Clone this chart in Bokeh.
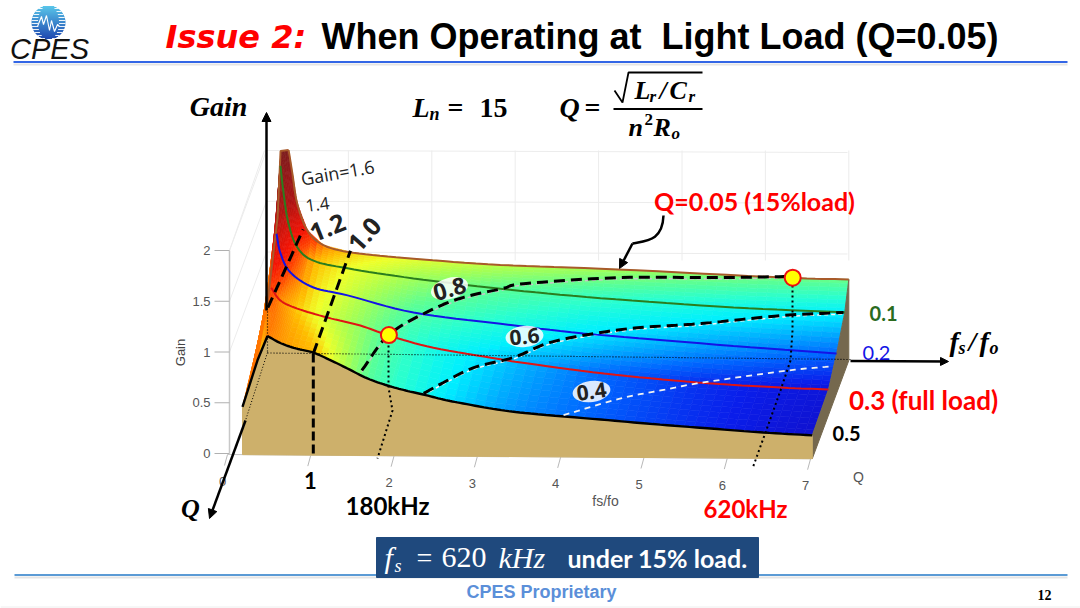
import numpy as np
from bokeh.plotting import figure
from bokeh.models import Arrow, NormalHead
from bokeh.core.properties import value
from bokeh.embed import file_html
from bokeh.resources import INLINE

# ---- data -----------------------------------------------------------------
Q_levels = [0.05, 0.1, 0.2, 0.3, 0.5]
f_q05 = [.18,.30,.335,.43,.475,.53,.65,.84,1.19,1.90,2.92,4.30,6.25,7.02]
g_q05 = [.48,1.31,1.95,1.96,1.73,1.45,1.19,1.05,.98,.93,.88,.85,.79,.78]
f_q10 = [.18,.30,.367,.40,.46,.567,.756,1.157,1.935,2.96,4.14,5.71,7.02]
g_q10 = [.47,1.30,1.92,1.68,1.37,1.135,1.01,.94,.85,.76,.68,.605,.57]
f_q20 = [.18,.30,.386,.434,.552,.825,1.228,2.01,3.04,4.02,5.41,7.02]
g_q20 = [.47,1.0,1.49,1.30,1.116,.973,.90,.74,.64,.555,.47,.385]
f_q30 = [.18,.30,.39,.5,.70,1.06,1.45,1.79,2.32,3.08,3.36,4.35,5.46,6.45,7.02]
g_q30 = [.47,.9,1.19,1.067,.99,.905,.83,.736,.62,.52,.485,.385,.306,.264,.25]
f_q50 = [.18,.36,.48,.64,.82,1.03,1.24,1.44,1.68,1.92,2.14,2.35,2.59,2.83,3.24,3.64,4.48,5.11,5.80,6.43,7.02]
g_q50 = [.47,.93,1.17,1.10,1.05,1.01,.935,.856,.759,.691,.643,.605,.557,.519,.462,.425,.371,.33,.29,.255,.23]

c10_f = [1.03, 1.157];  c10_q = [.5, .05]
c12_f = [.41, .48, .6]; c12_q = [.39, .27, .05]
c08_f = [1.6,1.81,2.22,2.57,3.0,3.23,4.31,5.48,6.26,6.36]
c08_q = [.483,.325,.217,.158,.1175,.095,.0635,.058,.05,.05]
c06_f = [2.35,2.55,2.86,3.30,3.68,4.24,4.69,5.39,6.33,7.02]
c06_q = [.493,.444,.377,.33,.262,.216,.192,.171,.131,.115]
c04_f = [4.03,4.64,5.2,5.57,6.52,7.01]
c04_q = [.495,.419,.372,.343,.286,.266]

op_f = [1.79, 6.36]; op_q = [.3, .05]; op_g = [.74, .79]

gain_ticks = [0, .5, 1, 1.5, 2]
gain_labels = ["0", "0.5", "1", "1.5", "2"]
fs_ticks = [0, 1, 2, 3, 4, 5, 6, 7]

cmap_g = [.2,.28,.38,.47,.56,.66,.76,.86,.94,1.0,1.1,1.2,1.5,2.0]
cmap_r = [20,10,0,0,0,40,90,170,240,255,255,245,170,120]
cmap_gr = [10,30,100,170,240,255,255,255,255,190,70,20,20,30]
cmap_b = [190,235,255,255,255,210,150,80,40,0,0,5,20,30]

# ---- view projection of the 3-D box ------------------------------------------
def project(f, q, g):
    f, q, g = np.asarray(f, float), np.asarray(q, float), np.asarray(g, float)
    t = (.5 - q) / .45
    x = (227 + 83.3 * f) * (1 - t) + (251.6 + 85 * f) * t
    y = (454 + .6 * f) * (1 - t) + (353 + f) * t - g * (101.5 * (1 - t) + 104 * t)
    return x, y

def smooth(x, y, n=8):
    x, y = np.asarray(x, float), np.asarray(y, float)
    if len(x) < 3:
        return x, y
    px = np.concatenate([[2 * x[0] - x[1]], x, [2 * x[-1] - x[-2]]])
    py = np.concatenate([[2 * y[0] - y[1]], y, [2 * y[-1] - y[-2]]])
    ox, oy = [], []
    for i in range(1, len(px) - 2):
        for s in np.linspace(0, 1, n, endpoint=False):
            b = [(-s**3 + 2*s*s - s) / 2, (3*s**3 - 5*s*s + 2) / 2, (-3*s**3 + 4*s*s + s) / 2, (s**3 - s*s) / 2]
            ox.append(sum(b[k] * px[i - 1 + k] for k in range(4)))
            oy.append(sum(b[k] * py[i - 1 + k] for k in range(4)))
    ox.append(x[-1]); oy.append(y[-1])
    return np.array(ox), np.array(oy)

def colour(g, f, q):
    t = (.5 - q) / .45
    e = g if g < 1 else 1 + (g - 1) * (.3 + .7 * t)
    if f < .36:
        e = max(e, 1.06)
    return "#%02x%02x%02x" % (int(np.interp(e, cmap_g, cmap_r)),
                              int(np.interp(e, cmap_g, cmap_gr)),
                              int(np.interp(e, cmap_g, cmap_b)))

p = figure(width=1080, height=608, x_range=(0, 1080), y_range=(608, 0),
           output_backend="svg", toolbar_location=None, min_border=0)
p.xaxis.visible = False; p.yaxis.visible = False
p.xgrid.visible = False; p.ygrid.visible = False
p.outline_line_color = None

def txt(x, y, s, size, color="black", font="Liberation Sans", style="normal",
        angle=0, align="center", base="middle"):
    p.text([x], [y], text=[s], text_font=value(font), text_font_size=f"{size}px",
           text_color=color, text_font_style=style, angle=np.radians(angle),
           text_align=align, text_baseline=base)

def arrow(x0, y0, x1, y1, w=2.5, size=9):
    p.add_layout(Arrow(end=NormalHead(size=size, fill_color="black", line_color="black"),
                       x_start=x0, y_start=y0, x_end=x1, y_end=y1, line_width=w))

# ---- page furniture ------------------------------------------------------------
p.line([13, 1067], [64, 64], line_color="#cccccc", line_width=2, line_alpha=.5)
p.line([13, 1067], [61.5, 61.5], line_color="#3366e6", line_width=2.2)
p.line([14, 1067], [577, 577], line_color="#cccccc", line_width=2, line_alpha=.5)
p.line([14, 1067], [574.5, 574.5], line_color="#5b9bd5", line_width=2)
p.line([0, 1080], [606.5, 606.5], line_color="#eeeeee", line_width=1)

# logo
cx, cy, r = 48, 22, 17
for dy in np.arange(-r, r + .01, 1.0):
    hw = np.sqrt(max(r * r - dy * dy, 0))
    u = (dy + r) / (2 * r)
    col = "#%02x%02x%02x" % (int(90 - 60 * u), int(200 - 130 * u), int(235 - 60 * u))
    p.line([cx - hw, cx + hw], [cy + dy, cy + dy], line_color=col, line_width=1.2)
    if int(dy + r) % 3 == 0:
        inner = hw * .62
        p.line([cx - hw, cx - inner], [cy + dy, cy + dy], line_color="white", line_width=.9)
        p.line([cx + inner, cx + hw], [cy + dy, cy + dy], line_color="white", line_width=.9)
p.line([37, 41, 43, 46, 49, 51, 54, 57, 59], [26, 16, 24, 15, 30, 20, 31, 24, 26],
       line_color="white", line_width=1.1)
txt(49, 48, "CPES", 29, "#111111", style="italic")

txt(165, 36, "Issue 2:", 32, "#ff0000", "DejaVu Sans", "bold italic", align="left")
txt(321, 36, "When Operating at\u00a0 Light Load (Q=0.05)", 36, "black", "Liberation Sans", "bold", align="left")

# ---- 3-D box: axes and grid ------------------------------------------------
grid = "#ececec"
for gv in gain_ticks[2:]:
    yb = 353 - 101.5 * gv
    p.line([266, 847], [yb, yb + 2], line_color=grid, line_width=1)
    p.line([229, 266], [453 - 101.5 * gv, yb], line_color=grid, line_width=1)
for fv in fs_ticks[1:]:
    xb = 264.5 + 83.4 * fv
    p.line([xb, xb], [150, 260], line_color=grid, line_width=1)
p.line([229, 229], [250, 453], line_color="#c8c8c8", line_width=1.5)
p.line([229, 264], [250, 150], line_color=grid, line_width=1)
for gv, lab in zip(gain_ticks, gain_labels):
    yy = 453 - 101.5 * gv
    p.line([214, 229], [yy, yy], line_color="#b0b0b0", line_width=1)
    txt(210, yy, lab, 13, "#555555", align="right")
txt(180, 352, "Gain", 13, "#444444", angle=90)
for fv in fs_ticks:
    tx, ty = project(fv, .5, 0)
    p.line([tx, tx - 3], [ty, ty + 11], line_color="#b8b8b8", line_width=1)
    if fv != 1:
        txt(float(tx) - 5, float(ty) + 27, str(fv), 13, "#555555")
p.line(*project([0, 7], [.5, .5], [0, 0]), line_color="#c8c8c8", line_width=1.2)
txt(605, 500, "fs/fo", 14, "#555555")
txt(858, 476, "Q", 14, "#555555")

# ---- surface -----------------------------------------------------------------
f_fine = np.concatenate([np.arange(.18, .7, .02), np.arange(.7, 2, .07), np.arange(2, 7.02, .12), [7.02]])
rows = [np.interp(f_fine, a, b) for a, b in [(f_q05, g_q05), (f_q10, g_q10), (f_q20, g_q20),
                                             (f_q30, g_q30), (f_q50, g_q50)]]
q_fine, g_fine = [], []
SUB = 8
for i in range(4):
    for s in range(SUB):
        w = s / SUB
        q_fine.append(Q_levels[i] * (1 - w) + Q_levels[i + 1] * w)
        g_fine.append(rows[i] * (1 - w) + rows[i + 1] * w)
q_fine.append(Q_levels[-1]); g_fine.append(rows[-1])
xs, ys, cs = [], [], []
for i in range(len(q_fine) - 1):
    x0, y0 = project(f_fine, q_fine[i], g_fine[i])
    x1, y1 = project(f_fine, q_fine[i + 1], g_fine[i + 1])
    for j in range(len(f_fine) - 1):
        xs.append([x0[j], x0[j + 1], x1[j + 1], x1[j]])
        ys.append([y0[j], y0[j + 1], y1[j + 1], y1[j]])
        cs.append(colour((g_fine[i][j] + g_fine[i][j + 1] + g_fine[i + 1][j] + g_fine[i + 1][j + 1]) / 4,
                         f_fine[j], q_fine[i]))
p.patches(xs, ys, fill_color=cs, line_color=cs, line_width=.6)

# right wall and front wall
g_edge = [g[-1] for g in g_fine]
wx, wy = project([7.02] * len(q_fine), q_fine, g_edge)
bx, by = project([7.02, 7.02], [.5, .05], [0, 0])
p.patch(list(wx) + [bx[0], bx[1]], list(wy) + [by[0], by[1]], fill_color="#75684e", line_color="#75684e")
cx5, cy5 = project(f_q50, [.5] * len(f_q50), g_q50)
sx5, sy5 = smooth(cx5[2:], cy5[2:])
fx, fy = project([7.02, .18], [.5, .5], [0, 0])
p.patch(list(cx5[:2]) + list(sx5) + list(fx), list(cy5[:2]) + list(sy5) + list(fy),
        fill_color="#cdb06b", line_color="#cdb06b")

# gain-contour dashes
for cf, cq, lev, under in [(c08_f, c08_q, .8, "#c8c8c8"), (c06_f, c06_q, .6, "#f4f4f4")]:
    cx_, cy_ = smooth(*project(cf, cq, [lev] * len(cf)))
    p.line(cx_, np.asarray(cy_) + 1.5, line_color=under, line_width=1.5, line_dash="4 3")

# Q-curves
for a, b, q, col, w, skip in [(f_q05, g_q05, .05, "#a85a2a", 2, 3), (f_q10, g_q10, .1, "#2b7d1e", 2, 2),
                              (f_q20, g_q20, .2, "#1414e6", 2, 2), (f_q30, g_q30, .3, "#e01414", 2, 2),
                              (f_q50, g_q50, .5, "#000000", 2.4, 2)]:
    lx, ly = smooth(*project(a[skip:], [q] * len(a[skip:]), b[skip:]))
    p.line(lx, ly, line_color=col, line_width=w)
    if q in (.05, .5):
        hx, hy = project(a[:skip + 1], [q] * (skip + 1), b[:skip + 1])
        p.line(hx, hy, line_color=col, line_width=w)

for cf, cq, lev in [(c10_f, c10_q, 1.0), (c12_f, c12_q, 1.2), (c08_f, c08_q, .8), (c06_f, c06_q, .6)]:
    cx_, cy_ = smooth(*project(cf, cq, [lev] * len(cf)))
    p.line(cx_, cy_, line_color="black", line_width=3, line_dash="11 6")
cx_, cy_ = smooth(*project(c04_f, c04_q, [.4] * len(c04_f)))
p.line(cx_, cy_, line_color="#f2f2f2", line_width=1.8, line_dash="6 5")

# dotted construction lines
dots = dict(line_color="black", line_width=2, line_dash="2 3")
p.line([267, 850], [352.5, 359], line_color="black", line_width=1.1, line_dash="1 2")
p.line([267, 245], [352, 420], line_color="black", line_width=1, line_dash="1 2")
p.line([267, 267], [305, 352], line_color="black", line_width=1.2, line_dash="1 2")
p.line([388, 388, 392, 377], [340, 387, 410, 458], **dots)
p.line([792, 792, 790, 780, 765, 752], [285, 330, 360, 390, 432, 468], **dots)
tx1, ty1 = project(1.03, .5, 1.0)
tx2, ty2 = project(1.03, .5, 0)
p.line([tx1, tx2], [ty1, ty2], line_color="black", line_width=3, line_dash="9 4")

# axis arrows
arrow(266, 310, 266, 112)
arrow(245, 420, 209, 518)
arrow(850, 360.5, 948, 361, w=2.5, size=8)
# callout
p.bezier(x0=[663], y0=[215], x1=[632], y1=[243], cx0=[662], cy0=[240], cx1=[647], cy1=[240],
         line_color="black", line_width=2.5)
arrow(632, 243, 619, 268, w=2.5, size=9)

# operating points
ox, oy = project(op_f, op_q, op_g)
p.scatter(ox, oy, size=16, fill_color="#ffff00", line_color="#ee1111", line_width=2)

# ---- text annotations --------------------------------------------------------
serif = "Liberation Serif"
txt(218, 106, "Gain", 28, "black", serif, "bold italic")
txt(412, 107, "L", 28, "black", serif, "bold italic", align="left")
txt(429, 113, "n", 18, "black", serif, "bold italic", align="left")
txt(447, 107, "=", 28, "black", serif, "bold", align="left")
txt(479, 107, "15", 28, "black", serif, "bold", align="left")
txt(559, 107, "Q", 28, "black", serif, "bold italic", align="left")
txt(584, 107, "=", 28, "black", serif, "bold", align="left")
p.line([614, 622, 628, 702], [90, 102, 72, 72], line_color="black", line_width=1.8)
p.line([613, 702], [108.5, 108.5], line_color="black", line_width=1.8)
txt(634, 90, "L", 26, "black", serif, "bold italic", align="left")
txt(649, 96, "r", 17, "black", serif, "bold italic", align="left")
txt(659, 90, "/", 26, "black", serif, "bold italic", align="left")
txt(669, 90, "C", 26, "black", serif, "bold italic", align="left")
txt(688, 96, "r", 17, "black", serif, "bold italic", align="left")
txt(628, 127, "n", 26, "black", serif, "bold italic", align="left")
txt(644, 119, "2", 17, "black", serif, "bold", align="left")
txt(653, 127, "R", 26, "black", serif, "bold italic", align="left")
txt(671, 133, "o", 17, "black", serif, "bold italic", align="left")

txt(337, 172, "Gain=1.6", 18, "#222222", "Open Sans", angle=10)
txt(317, 204, "1.4", 17, "#222222", "Open Sans", angle=8)
txt(327, 227, "1.2", 25, "#222222", "Open Sans", "bold", angle=22)
txt(364, 234, "1.0", 25, "#222222", "Open Sans", "bold", angle=48)
for x, y, s, a, fs in [(449, 288, "0.8", 16, 23), (524, 336, "0.6", 6, 21), (591, 391, "0.4", 8, 21)]:
    p.ellipse([x], [y], width=38, height=21, angle=np.radians(a), fill_color="white", fill_alpha=.85, line_color=None)
    txt(x, y, s, fs, "#222222", "Open Sans", "bold", angle=a)

txt(754, 200, "Q=0.05 (15%load)", 25, "#ff0000", "Lato", "bold")
txt(883, 313, "0.1", 20, "#2b6b1e", "Lato", "bold")
txt(876, 352, "0.2", 20, "#1414e6", "Lato")
txt(923, 399, "0.3 (full load)", 26, "#ff0000", "Lato", "bold")
txt(846, 433, "0.5", 20, "black", "Lato", "bold")
txt(310, 480, "1", 22, "black", "Lato", "bold")
txt(387, 505, "180kHz", 24, "black", "Lato", "bold")
txt(745, 508, "620kHz", 24, "#ff0000", "Lato", "bold")
txt(190, 508, "Q", 26, "black", serif, "bold italic")
txt(949, 341, "f", 28, "black", serif, "bold italic", align="left")
txt(958, 347, "s", 18, "black", serif, "bold italic", align="left")
txt(968, 341, "/", 28, "black", serif, "bold italic", align="left")
txt(979, 341, "f", 28, "black", serif, "bold italic", align="left")
txt(989, 347, "o", 18, "black", serif, "bold italic", align="left")

# bottom box
p.quad(left=[376], right=[758], top=[537], bottom=[577], fill_color="#1f497d", line_color="#1f497d")
txt(384, 557, "f", 30, "white", serif, "italic", align="left")
txt(394, 565, "s", 18, "white", serif, "italic", align="left")
txt(416, 557, "=", 28, "white", serif, align="left")
txt(441, 557, "620", 30, "white", serif, align="left")
txt(498, 557, "kHz", 30, "white", serif, "italic", align="left")
txt(567, 557, "under 15% load.", 25, "white", "Lato", "bold", align="left")
txt(541, 591, "CPES Proprietary", 18, "#5b8fd9", "Liberation Sans", "bold")
txt(1044, 594, "12", 14, "black", serif, "bold")

open("out.html", "w").write(file_html(p, INLINE))
